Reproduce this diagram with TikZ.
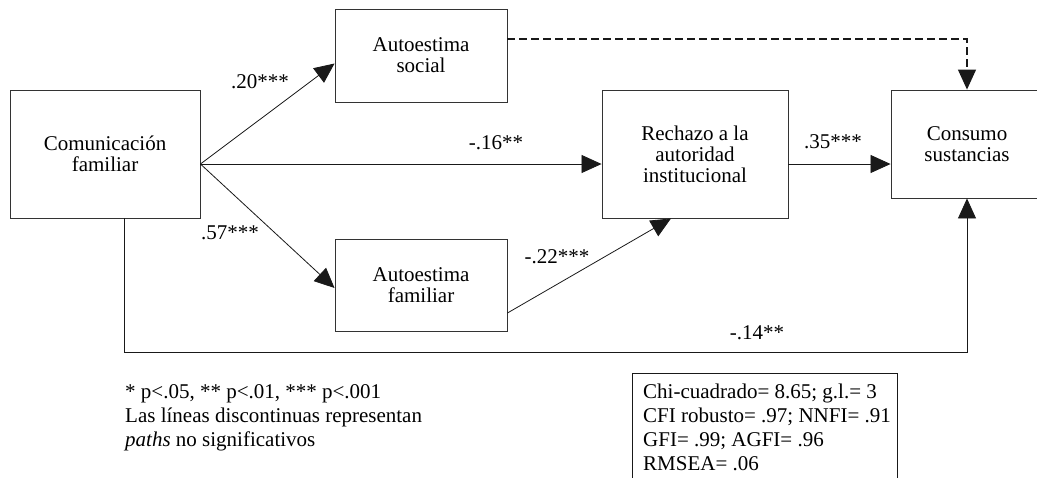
\documentclass[tikz,border=0pt]{standalone}
\usepackage{fontspec}
\setmainfont{Liberation Serif}
\usetikzlibrary{arrows.meta}
\begin{document}
\begin{tikzpicture}[x=1pt,y=-1pt,
  box/.style={draw=black!80, line width=0.9pt, inner sep=0pt, align=center, font=\fontsize{21}{21}\selectfont},
  conn/.style={draw=black!90, line width=0.8pt},
  arr/.style={conn, -{Triangle[length=20pt,width=18pt]}},
  dashconn/.style={arr, line width=1.2pt, dash pattern=on 8pt off 4pt},
  lbl/.style={inner sep=0pt, font=\fontsize{21}{21}\selectfont},
  note/.style={inner sep=0pt, align=left, font=\fontsize{21}{24}\selectfont}]
\useasboundingbox (0,0) rectangle (1037,477);
\node[box, minimum width=190pt, minimum height=128pt] (com) at (105,154) {Comunicación\\familiar};
\node[box, minimum width=172pt, minimum height=93pt] (as) at (421,55.5) {Autoestima\\social};
\node[box, minimum width=172pt, minimum height=92pt] (af) at (421,285) {Autoestima\\familiar};
\node[box, minimum width=186pt, minimum height=128pt] (rech) at (695,154) {Rechazo a la\\autoridad\\institucional};
\node[box, minimum width=152pt, minimum height=108pt] (cons) at (967,144) {Consumo\\sustancias};
\coordinate (c0) at ([yshift=-10pt]com.east);
\draw[arr] (c0) -- ([yshift=-8pt]as.west);
\draw[arr] (c0) -- ([yshift=-3pt]af.west);
\draw[arr] (c0) -- (rech.west |- c0);
\draw[arr] (rech.east |- c0) -- (cons.west |- c0);
\draw[arr] ([yshift=-28pt]af.east) -- ([xshift=-24pt]rech.south);
\draw[dashconn] ([yshift=16.5pt]as.east) -| (cons.north);
\draw[arr] ([xshift=19pt]com.south) -- ++(0,134) -| (cons.south);
\node[lbl] (l20) at (260,82) {.20***};
\node[lbl] (l16) at (496,143) {-.16**};
\node[lbl] (l57) at (230,233) {.57***};
\node[lbl] (l22) at (557,257) {-.22***};
\node[lbl] (l35) at (833,142) {.35***};
\node[lbl] (l14) at (757,333) {-.14**};
\node[note, anchor=north west] (leg) at (125,384) {* p<.05, ** p<.01, *** p<.001\\Las líneas discontinuas representan\\\textit{paths} no significativos};
\node[note, anchor=north west] (fit) at (643,384) {Chi-cuadrado= 8.65; g.l.= 3\\CFI robusto= .97; NNFI= .91\\GFI= .99; AGFI= .96\\RMSEA= .06};
\coordinate (fitnw) at (632,373);
\coordinate (fitne) at (897,373);
\draw[conn] ([yshift=-120pt]fitnw) -- (fitnw) -- (fitne) -- ([yshift=-120pt]fitne);
\end{tikzpicture}
\end{document}
